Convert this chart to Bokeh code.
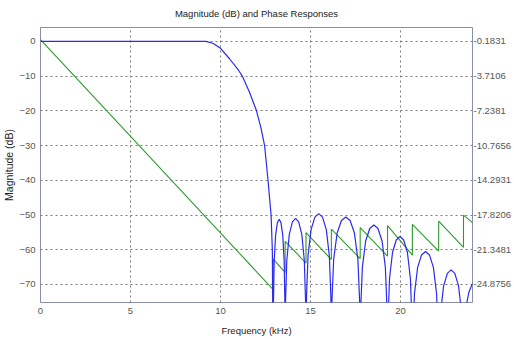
from bokeh.plotting import figure
from bokeh.models import Range1d, LinearAxis, FixedTicker, CustomJSTickFormatter
from bokeh.embed import file_html
from bokeh.resources import INLINE

# ---- data ----
x_ticks = [0, 5, 10, 15, 20]
mag_ticks = [0, -10, -20, -30, -40, -50, -60, -70]
phase_ticks = [-0.1831, -3.7106, -7.2381, -10.7656, -14.2931, -17.8206, -21.3481, -24.8756]

mag_freq = [0, 9.2, 9.6, 10.0, 10.5, 11.0, 11.21, 11.6, 12.0, 12.25, 12.45, 12.64, 12.81, 12.88, 12.93,
            12.943, 12.983, 13.062, 13.161, 13.26, 13.359, 13.458, 13.537, 13.577, 13.59,
            13.613, 13.683, 13.822, 13.996, 14.17, 14.344, 14.518, 14.657, 14.727, 14.75,
            14.778, 14.863, 15.032, 15.244, 15.455, 15.667, 15.878, 16.047, 16.132, 16.16,
            16.192, 16.288, 16.48, 16.72, 16.96, 17.2, 17.44, 17.632, 17.728, 17.76,
            17.79, 17.882, 18.064, 18.292, 18.52, 18.748, 18.976, 19.158, 19.25, 19.28,
            19.308, 19.39, 19.556, 19.763, 19.97, 20.177, 20.384, 20.55, 20.632, 20.66,
            20.689, 20.777, 20.952, 21.171, 21.39, 21.609, 21.828, 22.003, 22.091, 22.12,
            22.148, 22.23, 22.396, 22.603, 22.81, 23.017, 23.224, 23.39, 23.472, 23.5,
            23.53, 23.62, 23.8, 24.0]
mag_db = [0, 0, -0.6, -2.0, -5.0, -8.3, -10, -14.5, -20, -25, -30, -40, -50, -60, -100,
          -75.2, -63.3, -55.8, -52.2, -51.2, -52.2, -55.8, -63.3, -75.2, -100,
          -75.0, -63.1, -55.6, -52.0, -51.0, -52.0, -55.6, -63.1, -75.0, -100,
          -73.6, -61.7, -54.2, -50.6, -49.6, -50.6, -54.2, -61.7, -73.6, -100,
          -74.6, -62.7, -55.2, -51.6, -50.6, -51.6, -55.2, -62.7, -74.6, -100,
          -76.9, -65.0, -57.5, -53.9, -52.9, -53.9, -57.5, -65.0, -76.9, -100,
          -80.2, -68.3, -60.8, -57.2, -56.2, -57.2, -60.8, -68.3, -80.2, -100,
          -84.5, -72.6, -65.1, -61.5, -60.5, -61.5, -65.1, -72.6, -84.5, -100,
          -89.8, -77.9, -70.4, -66.8, -65.8, -66.8, -70.4, -77.9, -89.8, -100,
          -88, -77, -72.2, -69.7]

phase_freq = [0, 12.93, 12.93, 13.59, 13.59, 14.75, 14.75, 16.16, 16.16, 17.76, 17.76,
              19.28, 19.28, 20.66, 20.66, 22.12, 22.12, 23.5, 23.5, 24.0]
phase_rad = [0.0, -25.4, -22.3, -23.65, -20.5, -22.7, -19.6, -22.35, -19.25, -22.25, -19.1,
             -22.0, -18.9, -21.9, -18.78, -21.5, -18.45, -21.1, -17.84, -18.6]

# ---- ranges ----
X_MIN, X_MAX = 0, 24
Y_MIN, Y_MAX = -75.2, 4.0
# right axis is a linear relabelling of the left one
rad_per_db = (phase_ticks[-1] - phase_ticks[0]) / (mag_ticks[-1] - mag_ticks[0])
P_MIN = phase_ticks[0] + rad_per_db * (Y_MIN - mag_ticks[0])
P_MAX = phase_ticks[0] + rad_per_db * (Y_MAX - mag_ticks[0])

FONT = "Liberation Sans"
FRAME = "#8a8fa8"
TICKC = "#555555"
LBLC = "#222222"

p = figure(width=514, height=339, output_backend="svg", toolbar_location=None,
           x_range=Range1d(X_MIN, X_MAX), y_range=Range1d(Y_MIN, Y_MAX),
           title="Magnitude (dB) and Phase Responses",
           min_border_left=38, min_border_right=40, min_border_top=27, min_border_bottom=37)
p.extra_y_ranges = {"phase": Range1d(P_MIN, P_MAX)}

p.title.align = "center"
p.title.vertical_align = "top"
p.title.text_font = FONT
p.title.text_font_size = "9.5px"
p.title.text_font_style = "normal"
p.title.text_color = LBLC
p.title.standoff = 14

p.outline_line_color = FRAME
p.outline_line_width = 1
p.outline_line_alpha = 1
p.background_fill_color = "white"
p.border_fill_color = "white"

for ax in (p.xaxis[0], p.yaxis[0]):
    ax.axis_line_color = None
    ax.major_tick_out = 0
    ax.major_tick_in = 0
    ax.minor_tick_line_color = None
    ax.major_label_text_font = FONT
    ax.major_label_text_font_size = "9.5px"
    ax.major_label_text_color = TICKC
    ax.axis_label_text_font = FONT
    ax.axis_label_text_font_style = "normal"
    ax.axis_label_text_color = LBLC

p.xaxis.ticker = FixedTicker(ticks=x_ticks)
p.xaxis.axis_label = "Frequency (kHz)"
p.xaxis.axis_label_text_font_size = "9.5px"
p.xaxis.major_label_standoff = 5
p.xaxis.axis_label_standoff = 8

p.yaxis.ticker = FixedTicker(ticks=mag_ticks)
p.yaxis.axis_label = "Magnitude (dB)"
p.yaxis.axis_label_text_font_size = "10.5px"
p.yaxis.major_label_standoff = 5
p.yaxis.axis_label_standoff = 1

ra = LinearAxis(y_range_name="phase", ticker=FixedTicker(ticks=phase_ticks),
                formatter=CustomJSTickFormatter(code="return tick.toFixed(4);"))
ra.axis_label = None
ra.axis_label_standoff = 0
ra.axis_line_color = None
ra.major_tick_out = 0
ra.major_tick_in = 0
ra.minor_tick_line_color = None
ra.major_label_text_font = FONT
ra.major_label_text_font_size = "9.5px"
ra.major_label_text_color = TICKC
ra.major_label_standoff = 1
p.add_layout(ra, "right")

p.xgrid.ticker = FixedTicker(ticks=x_ticks)
p.ygrid.ticker = FixedTicker(ticks=mag_ticks)
for g in (p.xgrid[0], p.ygrid[0]):
    g.grid_line_color = "#7a7a7a"
    g.grid_line_dash = "2 3"
    g.grid_line_width = 1

p.line(phase_freq, phase_rad, y_range_name="phase", line_color="#2e9a2e", line_width=1.1)
p.line(mag_freq, mag_db, line_color="#2a2af0", line_width=1.2)

open("out.html", "w").write(file_html(p, INLINE))
